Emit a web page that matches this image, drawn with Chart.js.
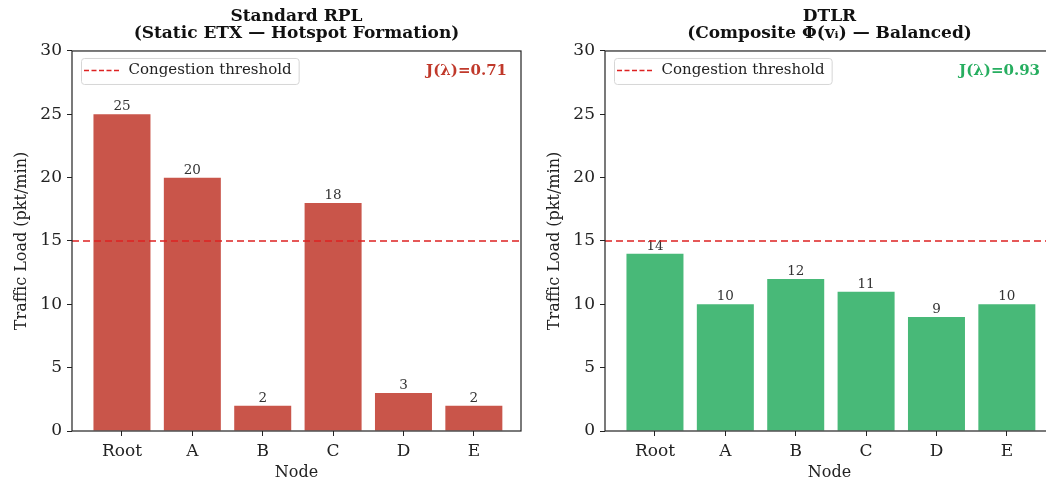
<!DOCTYPE html>
<html><head><meta charset="utf-8">
<script src="https://cdn.jsdelivr.net/npm/chart.js@4"></script>
<style>
html,body{margin:0;padding:0;overflow:hidden;background:#fff;width:1046px;height:485px}
.w{position:absolute;top:0;height:485px;width:523px}
</style></head><body>
<div class="w" style="left:0"><canvas id="c1"></canvas></div>
<div class="w" style="left:533px"><canvas id="c2"></canvas></div>
<script>
const nodes = ['Root', 'A', 'B', 'C', 'D', 'E'];
const rplLoad = [25, 20, 2, 18, 3, 2];
const dtlrLoad = [14, 10, 12, 11, 9, 10];
const threshold = 15;
const yTicks = [0, 5, 10, 15, 20, 25, 30];
const rplTitle = ['Standard RPL', '(Static ETX — Hotspot Formation)'];
const dtlrTitle = ['DTLR', '(Composite Φ(vᵢ) — Balanced)'];
const rplFairness = 'J(λ)=0.71';
const dtlrFairness = 'J(λ)=0.93';
const thresholdLabel = 'Congestion threshold';
const yLabel = 'Traffic Load (pkt/min)';
const xLabel = 'Node';

const FAM = "'DejaVu Serif', serif";
const INK = '#222';
const X_MIN = -0.71, X_MAX = 5.67;
const DASH = [7, 4];

const framePlugin = {
  id: 'frame',
  afterLayout(chart) {
    const lg = chart.legend, a = chart.chartArea;
    if (lg) {
      lg.top = a.top;
      lg.bottom = a.top + lg.height;
    }
    const tb = chart.titleBlock;
    if (tb) {
      tb.left = a.left;
      tb.right = a.right;
      tb.width = a.right - a.left;
    }
  },
  beforeDraw(chart) {
    const lg = chart.legend;
    if (!lg || !lg.legendHitBoxes || !lg.legendHitBoxes.length) return;
    const hb = lg.legendHitBoxes[0];
    const ctx = chart.ctx;
    const l = hb.left - 3, t = hb.top - 5, r = hb.left + hb.width + 7, b = hb.top + hb.height + 6;
    ctx.save();
    ctx.beginPath();
    ctx.roundRect(l + 0.5, t + 0.5, r - l, b - t, 3);
    ctx.fillStyle = 'rgba(255,255,255,0.8)';
    ctx.fill();
    ctx.strokeStyle = '#d6d6d6';
    ctx.lineWidth = 1;
    ctx.stroke();
    ctx.restore();
  },
  afterDatasetDraw(chart, args) {
    if (args.index !== 0) return;
    const ctx = chart.ctx;
    const meta = chart.getDatasetMeta(0);
    ctx.save();
    ctx.font = "13.5px " + FAM;
    ctx.fillStyle = '#333';
    ctx.textAlign = 'center';
    ctx.textBaseline = 'alphabetic';
    meta.data.forEach((el, i) => {
      ctx.fillText(String(chart.data.datasets[0].data[i].y), el.x, el.y - 4);
    });
    ctx.restore();
  },
  afterDraw(chart, args, opts) {
    const a = chart.chartArea, ctx = chart.ctx;
    ctx.save();
    ctx.strokeStyle = INK;
    ctx.lineWidth = 1.2;
    ctx.strokeRect(a.left, a.top, a.right - a.left, a.bottom - a.top);
    ctx.font = "bold 15px " + FAM;
    ctx.fillStyle = opts.color;
    ctx.textAlign = 'right';
    ctx.textBaseline = 'middle';
    ctx.fillText(opts.text, a.right - 14, a.top + 20);
    ctx.restore();
  }
};

function makeChart(id, values, barColor, title, fair, fairColor) {
  return new Chart(document.getElementById(id), {
    type: 'bar',
    plugins: [framePlugin],
    data: {
      datasets: [
        {
          type: 'bar', label: 'Load',
          data: values.map((v, i) => ({x: i, y: v})),
          backgroundColor: barColor, borderWidth: 0,
          barPercentage: 0.81, categoryPercentage: 1, order: 2
        },
        {
          type: 'line', label: thresholdLabel,
          data: [{x: X_MIN, y: threshold}, {x: X_MAX, y: threshold}],
          borderColor: '#dd2222', borderWidth: 1.6, borderDash: DASH,
          pointRadius: 0, fill: false, order: 1
        }
      ]
    },
    options: {
      responsive: true, maintainAspectRatio: false, animation: false,
      layout: {padding: {left: 0, right: 2, top: 0, bottom: 0}},
      plugins: {
        frame: {text: fair, color: fairColor},
        tooltip: {enabled: false},
        title: {
          display: true, text: title, color: '#111',
          font: {family: FAM, size: 17, weight: 'bold', lineHeight: 0.97},
          padding: {top: 8.5, bottom: 9.5}
        },
        legend: {
          display: true, position: 'chartArea', align: 'start',
          labels: {
            filter: item => item.datasetIndex === 1,
            generateLabels: chart => Chart.defaults.plugins.legend.labels.generateLabels(chart).map(it => Object.assign(it, {
              lineDash: [5, 2.5], lineWidth: 1.6, strokeStyle: '#dd2222', fontColor: INK
            })),
            usePointStyle: true, pointStyle: 'line', pointStyleWidth: 37,
            padding: 12, color: INK,
            font: {family: FAM, size: 15}
          }
        }
      },
      scales: {
        x: {
          type: 'linear', min: X_MIN, max: X_MAX, offset: false,
          afterBuildTicks: s => { s.ticks = nodes.map((_, i) => ({value: i})); },
          afterFit: s => { s.height = 54; },
          ticks: {
            callback: v => nodes[v], color: INK, autoSkip: false, maxRotation: 0,
            padding: 5, font: {family: FAM, size: 17}
          },
          grid: {display: true, drawOnChartArea: false, drawTicks: true, tickLength: 5, color: INK, offset: false},
          border: {display: false},
          title: {display: true, text: xLabel, color: INK, font: {family: FAM, size: 16}, padding: {top: 0, bottom: 2.4}}
        },
        y: {
          min: 0, max: 30,
          afterBuildTicks: s => { s.ticks = yTicks.map(v => ({value: v})); },
          afterFit: s => { s.width = 72; },
          ticks: {color: INK, padding: 5, font: {family: FAM, size: 17}},
          grid: {display: true, drawOnChartArea: false, drawTicks: true, tickLength: 5, color: INK},
          border: {display: false},
          title: {display: true, text: yLabel, color: INK, font: {family: FAM, size: 16}, padding: {top: 12.4, bottom: 0}}
        }
      }
    }
  });
}

makeChart('c1', rplLoad, '#c9554a', rplTitle, rplFairness, '#c0392b');
makeChart('c2', dtlrLoad, '#48b978', dtlrTitle, dtlrFairness, '#27ae60');
</script>
</body></html>
